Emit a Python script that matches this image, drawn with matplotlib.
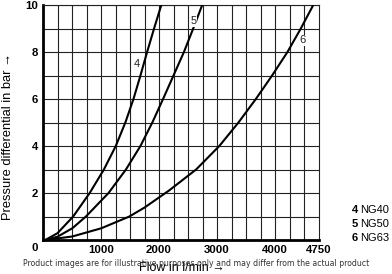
import matplotlib
matplotlib.use("Agg")
import matplotlib.pyplot as plt
import numpy as np

# Data (flow in l/min, pressure differential in bar)
pressure_4 = [0, 0.29, 1, 2, 3, 4, 5, 6, 7, 8, 9, 10]
flow_4 = [40, 250, 520, 805, 1050, 1255, 1420, 1560, 1680, 1795, 1915, 2040]

pressure_5 = [0, 0.14, 0.5, 1, 2, 3, 4, 5, 6, 7, 8, 9, 10]
flow_5 = [40, 250, 506, 740, 1130, 1430, 1680, 1885, 2070, 2250, 2430, 2590, 2745]

pressure_6 = [0, 0.15, 0.5, 1, 1.38, 2.1, 3, 4, 5, 6, 7, 8, 9, 10]
flow_6 = [40, 506, 1006, 1489, 1750, 2170, 2640, 3040, 3370, 3670, 3950, 4215, 4445, 4660]

x_ticks = [1000, 2000, 3000, 4000, 4750]
y_ticks = [2, 4, 6, 8, 10]
curve_labels = ["4", "5", "6"]
legend_nums = ["4", "5", "6"]
legend_names = ["NG40", "NG50", "NG63"]

W, H = 392, 274
fig = plt.figure(figsize=(W / 100, H / 100), dpi=100)
L, R, B, T = 43, 318.5, 240, 5
ax = fig.add_axes([L / W, 1 - B / H, (R - L) / W, (B - T) / H])

ax.set_xlim(0, 4750)
ax.set_ylim(0, 10)

# grid
for gx in np.arange(250, 4750, 250):
    ax.axvline(gx, color="#222222", lw=0.8, zorder=1)
for gy in range(1, 11):
    ax.axhline(gy, color="#222222", lw=0.8, zorder=1)

for fl, pr in [(flow_4, pressure_4), (flow_5, pressure_5), (flow_6, pressure_6)]:
    ax.plot(fl, pr, color="black", lw=1.5, zorder=3, solid_joinstyle="round")

for s in ["top", "right"]:
    ax.spines[s].set_linewidth(0.8)
    ax.spines[s].set_color("#222222")
for s in ["left", "bottom"]:
    ax.spines[s].set_linewidth(2.0)
    ax.spines[s].set_color("black")

fam = ["Liberation Sans", "DejaVu Sans"]
ax.set_xticks(x_ticks)
ax.set_xticklabels([str(v) for v in x_ticks], fontweight="bold", fontsize=8.2, family=fam)
ax.set_yticks(y_ticks)
ax.set_yticklabels([str(v) for v in y_ticks], fontweight="bold", fontsize=8.2, family=fam)
ax.tick_params(length=0, pad=3.5)
ax.text(-0.03, -0.035, "0", transform=ax.transAxes, ha="center", va="center",
        fontweight="bold", fontsize=8.2, family=fam)

# curve labels
lab_pos = [(1620, 7.5), (2590, 9.3), (4475, 8.5)]
for t, (xx, yy) in zip(curve_labels, lab_pos):
    ax.text(xx, yy, t, ha="center", va="center", fontsize=8, family=fam, color="#222222",
            zorder=4, bbox=dict(boxstyle="square,pad=0.05", fc="white", ec="none"))

fam_n = ["Liberation Sans Narrow", "Liberation Sans"]
fig.text(8 / W, 1 - 136 / H, "Pressure differential in bar \u2192", rotation=90,
         ha="center", va="center", fontsize=9.3, family=fam_n)
fig.text(182 / W, 1 - 268 / H, "Flow in l/min \u2192", ha="center", va="center",
         fontsize=9, family=fam_n)

for i, (n, nm) in enumerate(zip(legend_nums, legend_names)):
    yy = 1 - (210 + 14 * i) / H
    fig.text(352 / W, yy, n, ha="left", va="center", fontsize=8, fontweight="bold", family=fam)
    fig.text(360 / W, yy, nm, ha="left", va="center", fontsize=8, family=fam)

fig.text(196 / W, 1 - 264 / H,
         "Product images are for illustrative purposes only and may differ from the actual product",
         ha="center", va="center", fontsize=5.6, color="#333333", family="DejaVu Sans")

fig.savefig("out.png", dpi=100)
